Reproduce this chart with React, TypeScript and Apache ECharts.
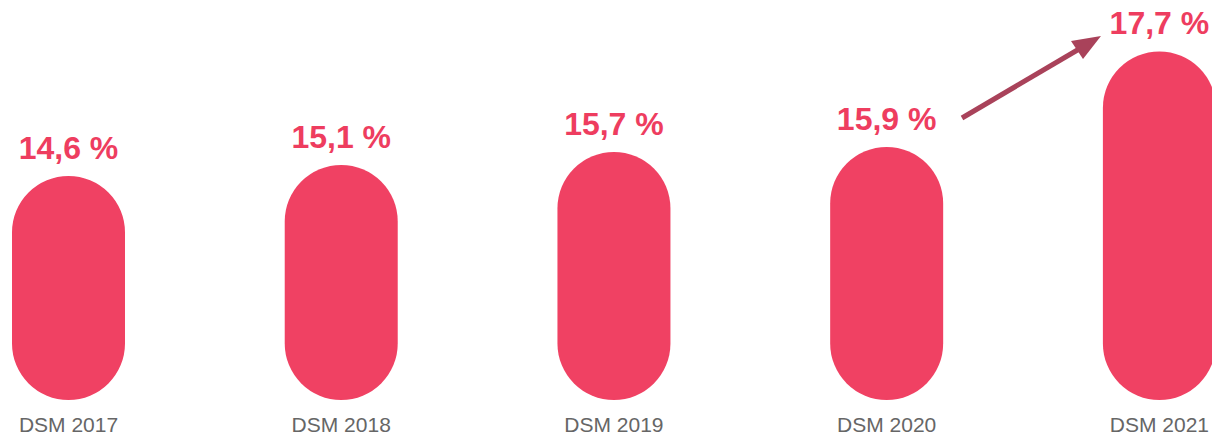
import React, { useEffect, useRef } from "react";
import * as echarts from "echarts";

// Categories and the reported shares
const categories = ["DSM 2017", "DSM 2018", "DSM 2019", "DSM 2020", "DSM 2021"];
const shareValues = [14.6, 15.1, 15.7, 15.9, 17.7];
// Bar lengths as drawn in the source (not to scale: the 2021 bar is exaggerated)
const drawnLengths = [14.6, 15.32, 16.17, 16.49, 22.72];
const valueLabels = shareValues.map((v) => v.toFixed(1).replace(".", ",") + " %");

const BAR_COLOR = "#F04163";
const LABEL_COLOR = "#EE3D5F";
const ARROW_COLOR = "#A9425A";
const FONT = "'Liberation Sans', Arial, Helvetica, sans-serif";

export default function App() {
  const ref = useRef<HTMLDivElement>(null);
  useEffect(() => {
    if (!ref.current) return;
    const chart = echarts.init(ref.current, null, { renderer: "svg" });
    chart.setOption({
      animation: false,
      backgroundColor: "#ffffff",
      grid: { left: 68.5, right: 49, top: 0, bottom: 36, containLabel: false },
      xAxis: {
        type: "category",
        data: categories,
        boundaryGap: false,
        axisLine: { show: false },
        axisTick: { show: false },
        splitLine: { show: false },
        axisLabel: {
          color: "#666666",
          fontFamily: FONT,
          fontSize: 21,
          lineHeight: 21,
          margin: 14,
          interval: 0,
        },
      },
      yAxis: {
        type: "value",
        min: 0,
        max: 26.07,
        show: false,
        splitLine: { show: false },
      },
      series: [
        {
          type: "bar",
          data: drawnLengths,
          barWidth: 113,
          itemStyle: { color: BAR_COLOR, borderRadius: 56.5 },
          label: {
            show: true,
            position: "top",
            distance: 12,
            color: LABEL_COLOR,
            fontFamily: FONT,
            fontWeight: "bold",
            fontSize: 32,
            lineHeight: 32,
            formatter: (p: any) => valueLabels[p.dataIndex],
          },
        },
      ],
      graphic: [
        {
          type: "line",
          shape: { x1: 962, y1: 118, x2: 1080, y2: 48.5 },
          style: { stroke: ARROW_COLOR, lineWidth: 5 },
        },
        {
          type: "polygon",
          shape: {
            points: [
              [1101, 36],
              [1071, 41],
              [1083, 59],
            ],
          },
          style: { fill: ARROW_COLOR },
        },
      ],
    });
    return () => chart.dispose();
  }, []);
  return (
    <div
      ref={ref}
      style={{ position: "absolute", left: 0, top: 0, width: 1212, height: 436 }}
    />
  );
}
